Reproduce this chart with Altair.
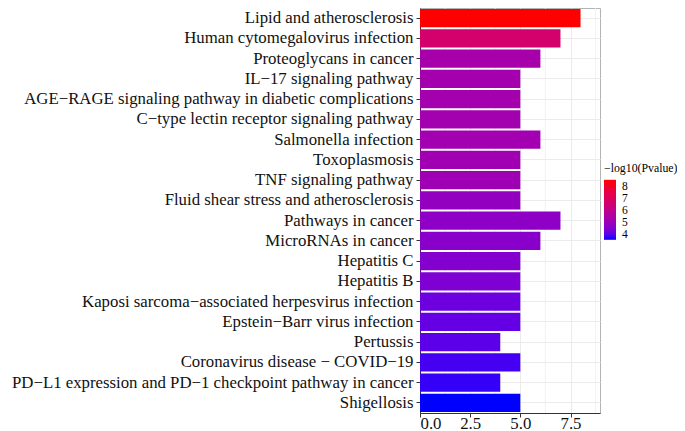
import altair as alt
import pandas as pd

pathways = [
    "Lipid and atherosclerosis",
    "Human cytomegalovirus infection",
    "Proteoglycans in cancer",
    "IL−17 signaling pathway",
    "AGE−RAGE signaling pathway in diabetic complications",
    "C−type lectin receptor signaling pathway",
    "Salmonella infection",
    "Toxoplasmosis",
    "TNF signaling pathway",
    "Fluid shear stress and atherosclerosis",
    "Pathways in cancer",
    "MicroRNAs in cancer",
    "Hepatitis C",
    "Hepatitis B",
    "Kaposi sarcoma−associated herpesvirus infection",
    "Epstein−Barr virus infection",
    "Pertussis",
    "Coronavirus disease − COVID−19",
    "PD−L1 expression and PD−1 checkpoint pathway in cancer",
    "Shigellosis",
]
counts = [8, 7, 6, 5, 5, 5, 6, 5, 5, 5, 7, 6, 5, 5, 5, 5, 4, 5, 4, 5]
neglog_p = [8.58, 6.73, 5.33, 5.28, 5.27, 5.23, 5.21, 5.18, 5.16, 4.88,
            4.78, 4.68, 4.58, 4.48, 4.23, 4.13, 4.03, 3.83, 3.73, 3.58]
x_ticks = [0, 2.5, 5, 7.5]
x_minor = [1.25, 3.75, 6.25, 8.75]
legend_ticks = [4, 5, 6, 7, 8]

df = pd.DataFrame({"Pathway": pathways, "Count": counts, "neglogp": neglog_p})
minor_df = pd.DataFrame({"v": x_minor})

FONT = "Liberation Serif"
xscale = alt.Scale(domain=[0, 8.97], nice=False, zero=True)

minor = alt.Chart(minor_df).mark_rule(color="#EFEFEF", strokeWidth=0.8).encode(
    x=alt.X("v:Q", scale=xscale)
)

bars = alt.Chart(df).mark_bar().encode(
    x=alt.X(
        "Count:Q",
        scale=xscale,
        axis=alt.Axis(
            values=x_ticks, format=".1f", title=None, grid=True,
            gridColor="#EBEBEB", gridWidth=1, tickColor="#333333",
            domainColor="#333333", tickSize=4, labelPadding=-2,
        ),
    ),
    y=alt.Y(
        "Pathway:N",
        sort=pathways,
        scale=alt.Scale(paddingInner=0.1, paddingOuter=0.05),
        axis=alt.Axis(
            title=None, grid=True, gridColor="#EBEBEB", gridWidth=1,
            tickColor="#333333", domainColor="#333333", tickSize=4,
            labelPadding=3, labelLimit=0, bandPosition=0.5,
        ),
    ),
    color=alt.Color(
        "neglogp:Q",
        scale=alt.Scale(domain=[3.58, 8.58], range=["#0000FF", "#FF0000"],
                        interpolate="lab"),
        legend=alt.Legend(
            title="−log10(Pvalue)", values=legend_ticks, orient="none",
            legendX=184, legendY=155, gradientLength=60,
            gradientThickness=12, gradientStrokeWidth=0,
            titleFont=FONT, titleFontSize=11.8, titleFontWeight="normal",
            titleColor="#000000", labelFont=FONT, labelFontSize=11.5,
            labelColor="#000000", labelOffset=6, titlePadding=5,
            labelOverlap=False,
        ),
    ),
)

chart = alt.layer(minor, bars).properties(
    width=180,
    height=405,
    autosize=alt.AutoSizeParams(type="none"),
    padding={"left": 412, "top": 0, "right": 77, "bottom": 18},
).configure_view(
    stroke="#B3B3B3"
).configure_axis(
    labelFont=FONT, labelFontSize=16.8, labelColor="#111111"
)

chart.save("out.html", embed_options={"renderer": "svg", "actions": False})
